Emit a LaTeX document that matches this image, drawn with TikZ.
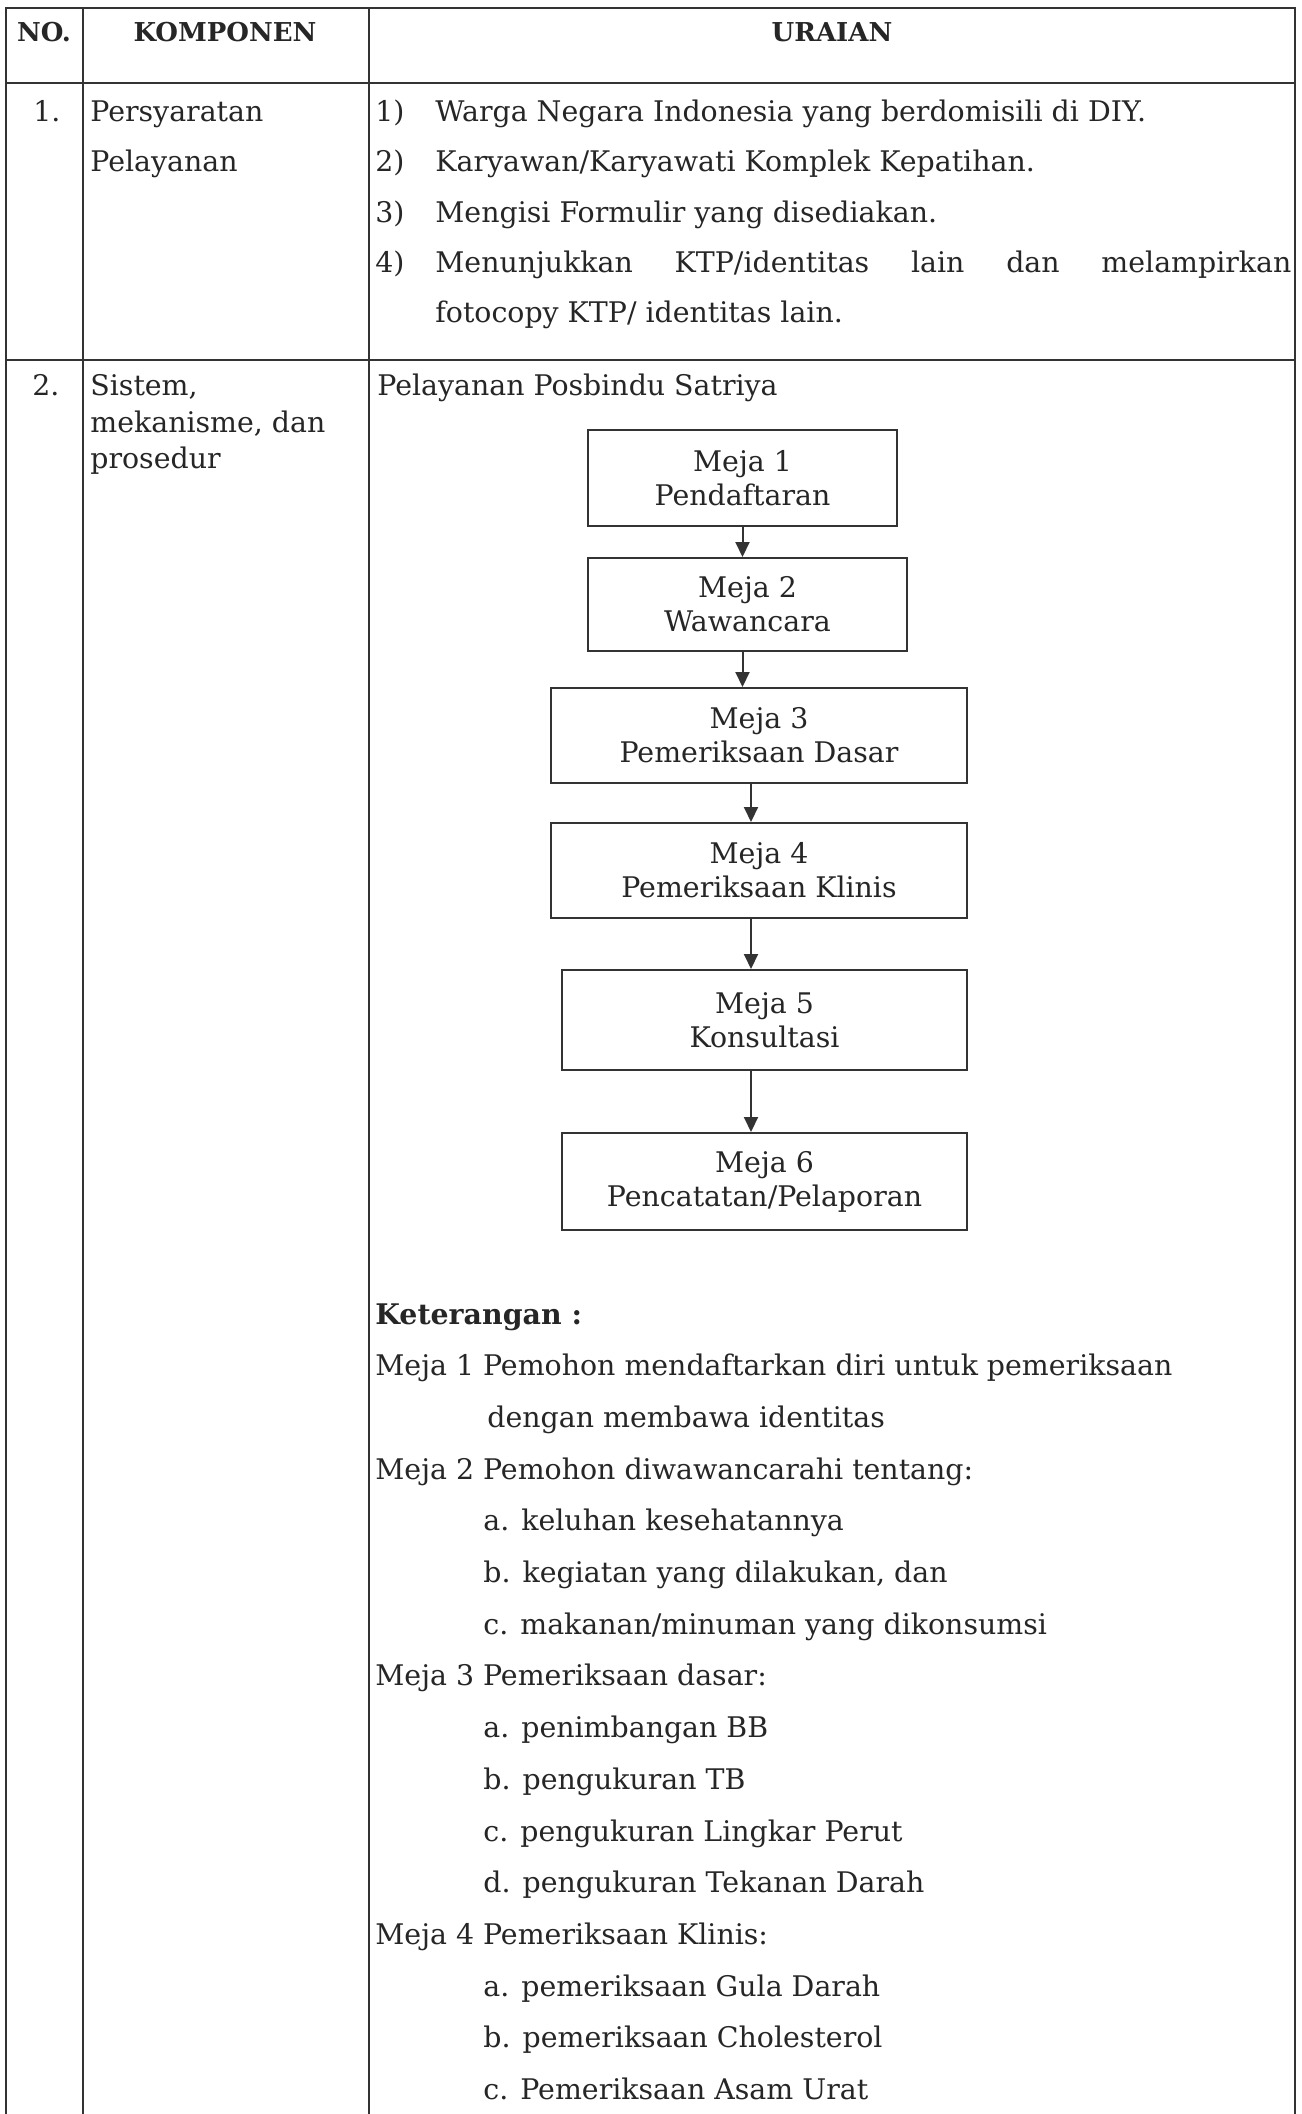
\documentclass[tikz,border=0pt]{standalone}
\usepackage{fontspec}
\setmainfont{DejaVu Serif}
\usetikzlibrary{arrows.meta}
\newcommand{\teks}{\fontsize{14.2}{17}\selectfont}
\newcommand{\judul}{\fontsize{13}{15}\selectfont\bfseries}
\tikzset{
  garis/.style={draw=black!80,line width=1pt},
  meja/.style={garis,align=center,font=\teks,text=black!85,inner sep=0pt},
  panah/.style={garis,-{Triangle[length=7.5pt,width=7pt]}},
  isi/.style={anchor=base west,inner sep=0pt,font=\teks,text=black!85},
  kepala/.style={anchor=base,inner sep=0pt,font=\judul,text=black!85}
}

\begin{document}
\begin{tikzpicture}[x=0.5pt,y=-0.5pt]
  \useasboundingbox[fill=white] (0,0) rectangle (1301,2114);
  % garis tabel
  \draw[garis] (6,2114) -- (6,8) -- (1295,8) -- (1295,2114);
  \draw[garis] (83,8) -- (83,2114) (369,8) -- (369,2114);
  \draw[garis] (6,83) -- (1295,83) (6,360) -- (1295,360);
  % kepala tabel
  \node[kepala] (no) at (44,42) {NO.};
  \node[kepala] (komp) at (225,42) {KOMPONEN};
  \node[kepala] (urai) at (832,42) {URAIAN};

  % baris 1
  \node[isi] (n1) at (33,121) {1.};
  \node[isi] (syarat) at (90,121) {Persyaratan};
  \node[isi] (layan) at (90,171.5) {Pelayanan};
  \foreach \y/\t [count=\i] in {121/{Warga Negara Indonesia yang berdomisili di DIY.},
      171.5/{Karyawan/Karyawati Komplek Kepatihan.},
      222/{Mengisi Formulir yang disediakan.},
      272/{\makebox[428pt][s]{Menunjukkan\hfill KTP/identitas\hfill lain\hfill dan\hfill melampirkan}}} {
    \node[isi] (p\i) at (375,\y) {\i)};
    \node[isi] (s\i) at (435,\y) {\t};
  }
  \node[isi] (s5) at (435,322) {fotocopy KTP/ identitas lain.};

  % baris 2
  \node[isi] (n2) at (32,395) {2.};
  \node[isi] (sis1) at (90,395) {Sistem,};
  \node[isi] (sis2) at (90,432) {mekanisme, dan};
  \node[isi] (sis3) at (90,468) {prosedur};
  \node[isi] (judulalur) at (377,395) {Pelayanan Posbindu Satriya};

  % alur meja
  \node[meja,minimum width=154.5pt,minimum height=48pt] (m1) at (742.5,478) {Meja 1\\Pendaftaran};
  \node[meja,minimum width=159.5pt,minimum height=46.5pt] (m2) at (747.5,604.5) {Meja 2\\Wawancara};
  \node[meja,minimum width=208pt,minimum height=47.5pt] (m3) at (759,735.5) {Meja 3\\Pemeriksaan Dasar};
  \node[meja,minimum width=208pt,minimum height=47.5pt] (m4) at (759,870.5) {Meja 4\\Pemeriksaan Klinis};
  \node[meja,minimum width=202.5pt,minimum height=50pt] (m5) at (764.5,1020) {Meja 5\\Konsultasi};
  \node[meja,minimum width=202.5pt,minimum height=48.5pt] (m6) at (764.5,1181.5) {Meja 6\\Pencatatan/Pelaporan};

  \draw[panah] (m1.south) -- (m1.south |- m2.north);
  \draw[panah] (m1.south |- m2.south) -- (m1.south |- m3.north);
  \coordinate (jalur) at (751,0);
  \foreach \a/\b in {3/4,4/5,5/6}
    \draw[panah] (jalur |- m\a.south) -- (jalur |- m\b.north);

  % keterangan
  \node[isi,font=\teks\bfseries] (k0) at (375,1324) {Keterangan :};
  \foreach \x/\t [count=\i] in {375/{Meja 1 Pemohon mendaftarkan diri untuk pemeriksaan},
      487/{dengan membawa identitas},
      375/{Meja 2 Pemohon diwawancarahi tentang:},
      483/{a. keluhan kesehatannya},
      483/{b. kegiatan yang dilakukan, dan},
      483/{c. makanan/minuman yang dikonsumsi},
      375/{Meja 3 Pemeriksaan dasar:},
      483/{a. penimbangan BB},
      483/{b. pengukuran TB},
      483/{c. pengukuran Lingkar Perut},
      483/{d. pengukuran Tekanan Darah},
      375/{Meja 4 Pemeriksaan Klinis:},
      483/{a. pemeriksaan Gula Darah},
      483/{b. pemeriksaan Cholesterol},
      483/{c. Pemeriksaan Asam Urat}}
    \node[isi] (k\i) at (\x,1324+\i*51.7) {\t};
\end{tikzpicture}
\end{document}
